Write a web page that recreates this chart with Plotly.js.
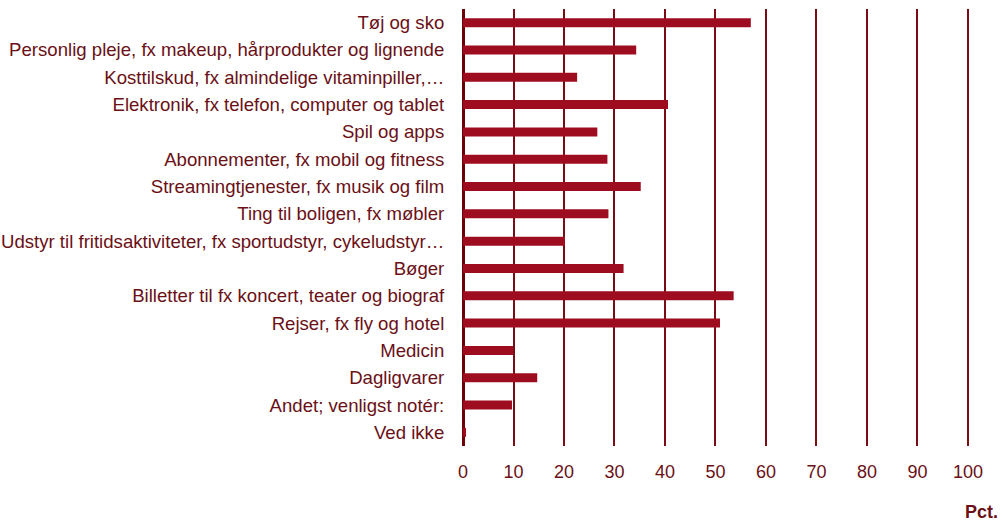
<!DOCTYPE html>
<html>
<head>
<meta charset="utf-8">
<script src="https://cdn.plot.ly/plotly-3.0.1.min.js"></script>
<style>html,body{margin:0;padding:0;background:#fff;}#chart{width:1002px;height:522px;}</style>
</head>
<body>
<div id="chart"></div>
<script>
const categories = [
  "Tøj og sko",
  "Personlig pleje, fx makeup, hårprodukter og lignende",
  "Kosttilskud, fx almindelige vitaminpiller,…",
  "Elektronik, fx telefon, computer og tablet",
  "Spil og apps",
  "Abonnementer, fx mobil og fitness",
  "Streamingtjenester, fx musik og film",
  "Ting til boligen, fx møbler",
  "Udstyr til fritidsaktiviteter, fx sportudstyr, cykeludstyr…",
  "Bøger",
  "Billetter til fx koncert, teater og biograf",
  "Rejser, fx fly og hotel",
  "Medicin",
  "Dagligvarer",
  "Andet; venligst notér:",
  "Ved ikke"
];
const values = [57.0, 34.3, 22.6, 40.6, 26.6, 28.6, 35.2, 28.8, 20.2, 31.8, 53.6, 50.9, 9.9, 14.7, 9.7, 0.6];
const xTicks = [0, 10, 20, 30, 40, 50, 60, 70, 80, 90, 100];
const unitLabel = "Pct.";

const textColor = "#6a1016";
const trace = {
  type: "bar",
  orientation: "h",
  x: values,
  y: categories,
  width: 0.33,
  marker: {color: "#9e0c1f", line: {width: 0}},
  hoverinfo: "x+y"
};
const layout = {
  width: 1002, height: 522,
  margin: {l: 463, r: 29, t: 9, b: 76, pad: 0},
  paper_bgcolor: "#fff", plot_bgcolor: "#fff",
  showlegend: false,
  font: {family: "Liberation Sans, Arial, sans-serif", size: 18, color: textColor},
  xaxis: {
    range: [0, 101],
    tickvals: xTicks,
    ticktext: xTicks.map(String),
    showgrid: true, gridcolor: "#7a0c16", gridwidth: 2,
    zeroline: true, zerolinecolor: "#6a0008", zerolinewidth: 3,
    showline: false,
    ticks: "outside", ticklen: 9, tickcolor: "rgba(0,0,0,0)",
    tickfont: {size: 18, color: textColor},
    fixedrange: true
  },
  yaxis: {
    autorange: "reversed",
    type: "category",
    showgrid: false, zeroline: false, showline: false,
    ticks: "outside", ticklen: 14, tickcolor: "rgba(0,0,0,0)",
    tickfont: {size: 18.6, color: textColor},
    fixedrange: true
  },
  annotations: [{
    text: "<b>" + unitLabel + "</b>",
    xref: "paper", yref: "paper",
    x: 1.053, y: -0.151,
    xanchor: "right", yanchor: "middle",
    showarrow: false,
    font: {size: 18, color: textColor}
  }]
};
Plotly.newPlot("chart", [trace], layout, {displayModeBar: false, staticPlot: true});
</script>
</body>
</html>
